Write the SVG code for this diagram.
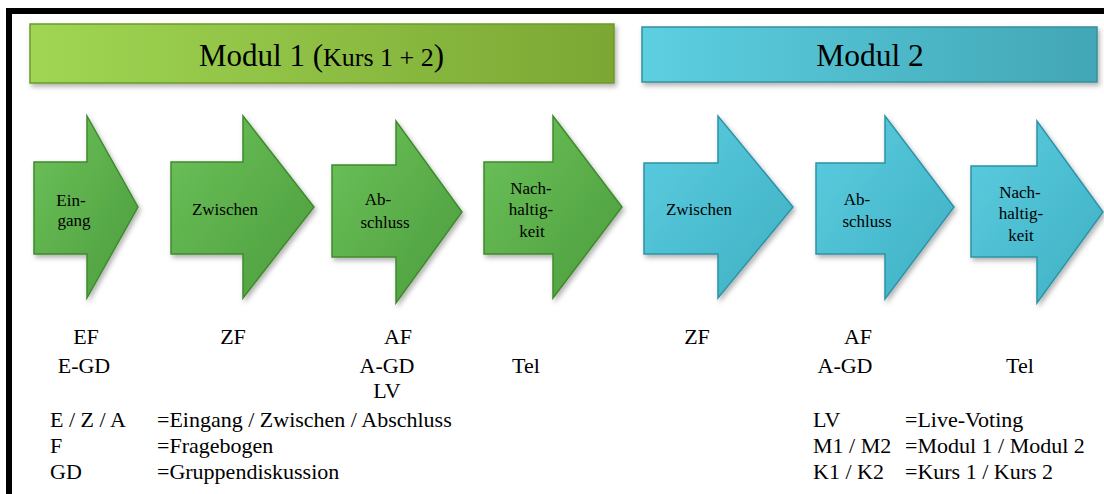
<svg xmlns="http://www.w3.org/2000/svg" width="1104" height="494" viewBox="0 0 1104 494" font-family="'Liberation Serif', 'DejaVu Serif', serif">
  <defs>
    <linearGradient id="gBar" x1="0" y1="0" x2="1" y2="0">
      <stop offset="0" stop-color="#a0d653"/>
      <stop offset="1" stop-color="#7ba733"/>
    </linearGradient>
    <linearGradient id="cBar" x1="0" y1="0" x2="1" y2="0">
      <stop offset="0" stop-color="#5ccfe0"/>
      <stop offset="1" stop-color="#42a6b6"/>
    </linearGradient>
    <linearGradient id="gArrow" x1="0" y1="0" x2="1" y2="1">
      <stop offset="0" stop-color="#6cc25a"/>
      <stop offset="1" stop-color="#4c9c3c"/>
    </linearGradient>
    <linearGradient id="cArrow" x1="0" y1="0" x2="1" y2="1">
      <stop offset="0" stop-color="#5ccde0"/>
      <stop offset="1" stop-color="#3fb0c3"/>
    </linearGradient>
    <filter id="shadow" x="-10%" y="-10%" width="125%" height="130%">
      <feDropShadow dx="2" dy="3" stdDeviation="2.5" flood-color="#000" flood-opacity="0.3"/>
    </filter>
  </defs>
  <style>
    text { font-family: "Liberation Serif", "DejaVu Serif", serif; fill: #000; }
    .arr { font-size: 17px; text-anchor: middle; }
    .lbl { font-size: 22px; text-anchor: middle; }
    .leg { font-size: 22px; }
    .green { fill: url(#gArrow); stroke: #3f8a2e; stroke-width: 1.5; filter: url(#shadow); }
    .cyan { fill: url(#cArrow); stroke: #2d93a5; stroke-width: 1.5; filter: url(#shadow); }
  </style>

  <rect width="1104" height="494" fill="#fff"/>
  <!-- frame -->
  <path d="M9,494 V11 H1104" fill="none" stroke="#000" stroke-width="6"/>

  <!-- module headers -->
  <g id="modul1">
    <rect x="30" y="24" width="584" height="59" fill="url(#gBar)" stroke="#6c9a2a" stroke-width="1.5" filter="url(#shadow)"/>
    <text x="199" y="66" style="font-size:31px">Modul 1 (<tspan style="font-size:26px">Kurs 1 + 2</tspan>)</text>
  </g>
  <g id="modul2">
    <rect x="642" y="27" width="455" height="55" fill="url(#cBar)" stroke="#36909e" stroke-width="1.5" filter="url(#shadow)"/>
    <text x="870" y="66" style="font-size:31.5px" text-anchor="middle">Modul 2</text>
  </g>

  <!-- process arrows, module 1 -->
  <g id="m1-eingang">
    <path class="green" d="M34,162 H87 V116 L138,207 L87,298 V254 H34 Z"/>
    <text class="arr" x="71" y="206">Ein-</text>
    <text class="arr" x="74" y="226">gang</text>
  </g>
  <g id="m1-zwischen">
    <path class="green" d="M171,162 H243 V116 L314,207 L243,298 V254 H171 Z"/>
    <text class="arr" x="225" y="215">Zwischen</text>
  </g>
  <g id="m1-abschluss">
    <path class="green" d="M332,165 H396 V121 L462,212 L396,303 V257 H332 Z"/>
    <text class="arr" x="378" y="205">Ab-</text>
    <text class="arr" x="385" y="228">schluss</text>
  </g>
  <g id="m1-nachhaltigkeit">
    <path class="green" d="M484,162 H553 V116 L622,207 L553,298 V254 H484 Z"/>
    <text class="arr" x="531" y="194">Nach-</text>
    <text class="arr" x="531" y="215">haltig-</text>
    <text class="arr" x="532" y="237">keit</text>
  </g>

  <!-- process arrows, module 2 -->
  <g id="m2-zwischen">
    <path class="cyan" d="M644,163 H718 V116 L793,207 L718,298 V254 H644 Z"/>
    <text class="arr" x="699" y="215">Zwischen</text>
  </g>
  <g id="m2-abschluss">
    <path class="cyan" d="M816,163 H885 V116 L954,207 L885,299 V254 H816 Z"/>
    <text class="arr" x="857" y="205">Ab-</text>
    <text class="arr" x="867" y="227">schluss</text>
  </g>
  <g id="m2-nachhaltigkeit">
    <path class="cyan" d="M971,166 H1037 V121 L1103,212 L1037,303 V257 H971 Z"/>
    <text class="arr" x="1020" y="198">Nach-</text>
    <text class="arr" x="1021" y="219">haltig-</text>
    <text class="arr" x="1021" y="241">keit</text>
  </g>

  <!-- survey instruments per phase -->
  <g id="methods">
    <text class="lbl" x="86" y="344">EF</text>
    <text class="lbl" x="84" y="373">E-GD</text>
    <text class="lbl" x="233" y="344">ZF</text>
    <text class="lbl" x="398" y="344">AF</text>
    <text class="lbl" x="387" y="373">A-GD</text>
    <text class="lbl" x="387" y="398">LV</text>
    <text class="lbl" x="526" y="373">Tel</text>
    <text class="lbl" x="697" y="344">ZF</text>
    <text class="lbl" x="858" y="344">AF</text>
    <text class="lbl" x="845" y="373">A-GD</text>
    <text class="lbl" x="1020" y="373">Tel</text>
  </g>

  <!-- abbreviations -->
  <g id="legend">
    <text class="leg" x="50" y="427">E / Z / A</text>
    <text class="leg" x="157" y="427">=Eingang / Zwischen / Abschluss</text>
    <text class="leg" x="50" y="453">F</text>
    <text class="leg" x="157" y="453">=Fragebogen</text>
    <text class="leg" x="50" y="479">GD</text>
    <text class="leg" x="157" y="479">=Gruppendiskussion</text>
    <text class="leg" x="813" y="427">LV</text>
    <text class="leg" x="905" y="427">=Live-Voting</text>
    <text class="leg" x="813" y="453">M1 / M2</text>
    <text class="leg" x="905" y="453">=Modul 1 / Modul 2</text>
    <text class="leg" x="813" y="479">K1 / K2</text>
    <text class="leg" x="905" y="479">=Kurs 1 / Kurs 2</text>
  </g>
</svg>
